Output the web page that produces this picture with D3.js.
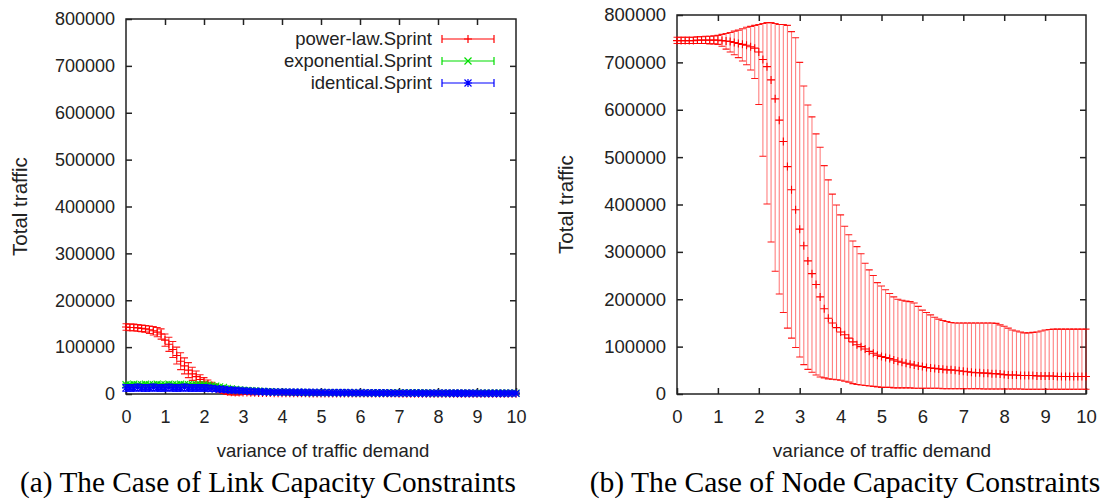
<!DOCTYPE html>
<html>
<head>
<meta charset="utf-8">
<script src="https://cdn.jsdelivr.net/npm/d3@7"></script>
<style>
  body { margin: 0; background: #fff; }
  svg { display: block; }
</style>
</head>
<body>
<div id="chart"></div>
<script>
// Sample grid: variance of traffic demand, 0 .. 10 in steps of 0.1
let xs = d3.range(101).map(i => i / 10)

// Axis ticks
let xTicks = [0, 1, 2, 3, 4, 5, 6, 7, 8, 9, 10]
let yTicks = [0, 100000, 200000, 300000, 400000, 500000, 600000, 700000, 800000]

// (a) Link capacity, values in thousands
let plMean = [143, 142, 142, 141, 140, 139, 137, 135, 132, 128,
    115, 106, 95, 82, 70, 60, 51, 43, 37, 31,
    26, 22, 18, 14, 10, 7, 5, 4, 3, 3,
    3, 3, 2.5, 2.5, 2, 2, 2, 2, 1.8, 1.8,
    1.5, 1.5, 1.5, 1.5, 1.4, 1.4, 1.4, 1.3, 1.3, 1.3,
    1.2, 1.2, 1.2, 1.2, 1.1, 1.1, 1.1, 1.1, 1, 1,
    1, 1, 1, 1, 1, 0.9, 0.9, 0.9, 0.9, 0.9,
    0.8, 0.8, 0.8, 0.8, 0.8, 0.8, 0.7, 0.7, 0.7, 0.7,
    0.7, 0.7, 0.6, 0.6, 0.6, 0.6, 0.6, 0.6, 0.6, 0.5,
    0.5, 0.5, 0.5, 0.5, 0.5, 0.5, 0.5, 0.5, 0.5, 0.5, 0.5]
let plErr = [7, 7, 7, 7, 7, 7, 8, 9, 10, 11,
    13, 15, 17, 18, 18, 17, 16, 14, 12, 10,
    9, 8, 7, 7, 6, 6, 6, 6, 5, 5,
    4, 4, 4, 4, 3, 3, 3, 3, 3, 3,
    3, 3, 3, 3, 3, 3, 3, 3, 3, 3,
    2, 2, 2, 2, 2, 2, 2, 2, 2, 2,
    2, 2, 2, 2, 2, 2, 2, 2, 2, 2,
    2, 2, 2, 2, 2, 2, 2, 2, 2, 2,
    2, 2, 2, 2, 2, 2, 2, 2, 2, 2,
    2, 2, 2, 2, 2, 2, 2, 2, 2, 2, 2]
let exMean = [20, 20, 21, 20, 20, 21, 20, 20, 21, 20,
    20, 21, 20, 20, 21, 20, 20, 20, 20, 20,
    20, 19, 18, 17, 15, 14, 12, 11, 10, 9,
    8, 7.5, 7, 6.5, 6, 5.5, 5, 4.8, 4.5, 4.2,
    4, 3.8, 3.6, 3.5, 3.4, 3.3, 3.2, 3.1, 3, 3,
    2.9, 2.9, 2.8, 2.8, 2.8, 2.7, 2.7, 2.7, 2.6, 2.6,
    2.6, 2.5, 2.5, 2.5, 2.5, 2.4, 2.4, 2.4, 2.4, 2.3,
    2.3, 2.3, 2.3, 2.2, 2.2, 2.2, 2.2, 2.2, 2.1, 2.1,
    2.1, 2.1, 2.1, 2, 2, 2, 2, 2, 2, 2,
    1.9, 1.9, 1.9, 1.9, 1.9, 1.9, 1.9, 1.8, 1.8, 1.8, 1.8]
let exErr = [3, 3, 3, 3, 3, 3, 3, 3, 3, 3,
    3, 3, 3, 3, 3, 3, 3, 3, 3, 3,
    3, 3, 3, 3, 3, 3, 3, 3, 3, 3,
    3, 3, 3, 3, 3, 3, 3, 3, 3, 3,
    2.5, 2.5, 2.5, 2.5, 2.5, 2.5, 2.5, 2.5, 2.5, 2.5,
    2.5, 2.5, 2.5, 2.5, 2.5, 2.5, 2.5, 2.5, 2.5, 2.5,
    2.5, 2.5, 2.5, 2.5, 2.5, 2.5, 2.5, 2.5, 2.5, 2.5,
    2.5, 2.5, 2.5, 2.5, 2.5, 2.5, 2.5, 2.5, 2.5, 2.5,
    2.5, 2.5, 2.5, 2.5, 2.5, 2.5, 2.5, 2.5, 2.5, 2.5,
    2.5, 2.5, 2.5, 2.5, 2.5, 2.5, 2.5, 2.5, 2.5, 2.5, 2.5]
let idMean = [13, 13, 13, 14, 13, 13, 13, 14, 13, 13,
    13, 14, 13, 13, 13, 14, 13, 13, 13, 13,
    13, 12.5, 12, 11, 10.5, 10, 9, 8.5, 8, 7.5,
    7, 6.5, 6, 5.5, 5.2, 5, 4.7, 4.5, 4.2, 4.1,
    4, 3.9, 3.8, 3.7, 3.6, 3.5, 3.4, 3.3, 3.2, 3.1,
    3, 3, 2.9, 2.9, 2.8, 2.8, 2.7, 2.7, 2.6, 2.6,
    2.5, 2.5, 2.4, 2.4, 2.3, 2.3, 2.2, 2.2, 2.1, 2.1,
    2, 2, 2, 1.9, 1.9, 1.9, 1.8, 1.8, 1.8, 1.8,
    1.7, 1.7, 1.7, 1.7, 1.6, 1.6, 1.6, 1.6, 1.6, 1.6,
    1.5, 1.5, 1.5, 1.5, 1.5, 1.5, 1.5, 1.5, 1.5, 1.5, 1.5]
let idErr = [7, 7, 7, 7, 7, 7, 7, 7, 7, 7,
    7, 7, 7, 7, 7, 7, 7, 7, 7, 7,
    7, 6.5, 6, 5.5, 5.5, 5, 5, 4.5, 4.5, 4,
    4, 4, 3.5, 3.5, 3.5, 3.5, 3, 3, 3, 3,
    3, 3, 3, 3, 3, 3, 3, 3, 3, 3,
    3, 3, 3, 3, 3, 3, 3, 3, 3, 3,
    3, 3, 3, 3, 3, 3, 3, 3, 3, 3,
    3, 3, 3, 3, 3, 3, 3, 3, 3, 3,
    3, 3, 3, 3, 3, 3, 3, 3, 3, 3,
    3, 3, 3, 3, 3, 3, 3, 3, 3, 3, 3]

// (b) Node capacity, power-law.Sprint, values in thousands
let nodeMean = [746, 746, 746, 746, 746, 747, 747, 747, 747, 747,
    747, 746, 745, 744, 742, 740, 738, 736, 733, 730,
    722, 706, 691, 663, 623, 578, 533, 480, 431, 389,
    348, 313, 281, 254, 231, 205, 180, 160, 150, 140,
    131, 125, 118, 110, 104, 100, 95, 90, 86, 82,
    79, 77, 75, 72, 69, 67, 65, 63, 61, 59,
    58, 56, 55, 54, 53, 52, 51, 51, 50, 49,
    48, 47, 46, 45, 45, 44, 44, 43, 43, 42,
    41, 40, 40, 40, 39, 39, 39, 39, 38, 38,
    38, 38, 38, 37, 37, 37, 37, 37, 37, 37, 37]
let nodeLow = [740, 740, 740, 740, 740, 740, 740, 740, 739, 739,
    738, 734, 728, 722, 716, 710, 703, 695, 684, 666,
    611, 502, 401, 321, 259, 211, 172, 139, 118, 98,
    78, 62, 52, 46, 40, 36, 34, 32, 31, 30,
    29, 27, 25, 22, 20, 19, 18, 17, 16, 15,
    14, 14, 14, 13, 13, 13, 13, 13, 12, 12,
    12, 12, 12, 12, 12, 11, 11, 11, 11, 11,
    11, 11, 11, 11, 11, 10.5, 10.5, 10.5, 10.5, 10.5,
    10.5, 10.5, 10.5, 10.5, 10.5, 10, 10, 10, 10, 10,
    10, 10, 10, 10, 10, 10, 10, 10, 10, 10, 10]
let nodeHigh = [753, 753, 753, 753, 753, 754, 754, 755, 755, 756,
    757, 759, 761, 763, 766, 768, 771, 774, 776, 778,
    780, 782, 784, 784, 782, 780, 780, 778, 765, 752,
    700, 650, 610, 585, 549, 521, 482, 452, 422, 399,
    378, 354, 336, 323, 311, 296, 276, 262, 250, 235,
    228, 220, 212, 205, 200, 198, 196, 195, 192, 185,
    177, 172, 167, 162, 158, 155, 153, 151, 150, 150,
    150, 150, 150, 150, 150, 150, 150, 150, 149, 146,
    143, 139, 135, 133, 131, 129, 129, 130, 131, 133,
    135, 136, 137, 137, 137, 137, 137, 137, 137, 137, 137]

let legendNames = ['power-law.Sprint', 'exponential.Sprint', 'identical.Sprint']
let colors = ['#ff0000', '#00dd00', '#0000ff']

// Marker shapes (gnuplot point types 1, 2, 3)
let markers = {
    plus: 'M-4,0H4M0,-4V4',
    cross: 'M-3.5,-3.5L3.5,3.5M-3.5,3.5L3.5,-3.5',
    star: 'M-4,0H4M0,-4V4M-3.5,-3.5L3.5,3.5M-3.5,3.5L3.5,-3.5'
}

let svgWidth = 1102, svgHeight = 502
let svg = d3.select('#chart')
    .append('svg')
    .attr('width', svgWidth)
    .attr('height', svgHeight)
    .style('font-family', '"Liberation Sans", Arial, sans-serif')

svg.append('rect').attr('width', svgWidth).attr('height', svgHeight).attr('fill', '#fff')

// Draw one gnuplot-like panel, returns its scales
drawPanel = (p) => {
    let x = d3.scaleLinear().domain([0, 10]).range([p.left, p.right])
    let y = d3.scaleLinear().domain([0, 800000]).range([p.bottom, p.top])
    let g = svg.append('g')

    // inward ticks on all four sides
    let styleAxis = (a, labels) => {
        a.select('.domain').remove()
        a.selectAll('.tick line').attr('stroke', '#222').attr('stroke-width', 1.5)
        a.selectAll('.tick text')
            .attr('fill', '#222')
            .style('font-size', p.fontSize + 'px')
            .style('font-family', '"Liberation Sans", Arial, sans-serif')
        if (!labels) a.selectAll('.tick text').remove()
    }
    g.append('g')
        .attr('transform', 'translate(0,' + p.bottom + ')')
        .call(d3.axisBottom(x).tickValues(xTicks).tickSize(-6).tickPadding(16).tickFormat(d3.format('d')))
        .call(a => styleAxis(a, true))
    g.append('g')
        .attr('transform', 'translate(0,' + p.top + ')')
        .call(d3.axisTop(x).tickValues(xTicks.slice(1, -1)).tickSize(-6))
        .call(a => styleAxis(a, false))
    g.append('g')
        .attr('transform', 'translate(' + p.left + ',0)')
        .call(d3.axisLeft(y).tickValues(yTicks).tickSize(-6).tickPadding(11).tickFormat(d3.format('d')))
        .call(a => styleAxis(a, true))
    g.append('g')
        .attr('transform', 'translate(' + p.right + ',0)')
        .call(d3.axisRight(y).tickValues(yTicks.slice(1, -1)).tickSize(-6))
        .call(a => styleAxis(a, false))

    // frame
    g.append('rect')
        .attr('x', p.left).attr('y', p.top)
        .attr('width', p.right - p.left).attr('height', p.bottom - p.top)
        .attr('fill', 'none').attr('stroke', '#222').attr('stroke-width', 1.5)

    // axis titles
    g.append('text')
        .attr('transform', 'translate(' + p.yTitleX + ',' + (p.top + p.bottom) / 2 + ') rotate(-90)')
        .attr('text-anchor', 'middle')
        .attr('dy', '0.35em')
        .attr('fill', '#222')
        .style('font-size', '20.5px')
        .text('Total traffic')
    g.append('text')
        .attr('x', p.xTitleX).attr('y', 457)
        .attr('text-anchor', 'middle')
        .attr('fill', '#222')
        .style('font-size', (p.fontSize + 0.5) + 'px')
        .text('variance of traffic demand')

    // caption
    svg.append('text')
        .attr('x', p.captionX).attr('y', 492)
        .attr('text-anchor', 'middle')
        .attr('fill', '#000')
        .style('font-family', '"Liberation Serif", "Times New Roman", serif')
        .style('font-size', p.captionSize + 'px')
        .text(p.caption)

    return { x, y }
}

// Error-bar series: light vertical bar, caps, and marker at the mean
drawSeries = (sc, rows, color, marker, barOpacity) => {
    let g = svg.append('g')
        .attr('stroke', color)
        .attr('stroke-width', 1.1)
        .attr('fill', 'none')
    let pts = g.selectAll('g').data(rows).join('g')
        .attr('transform', d => 'translate(' + sc.x(d.x) + ',0)')
    pts.append('line')
        .attr('stroke-opacity', barOpacity)
        .attr('y1', d => sc.y(d.lo * 1000))
        .attr('y2', d => sc.y(d.hi * 1000))
    pts.append('path')
        .attr('stroke-opacity', 0.9)
        .attr('d', d => 'M-3.5,' + sc.y(d.lo * 1000) + 'H3.5M-3.5,' + sc.y(d.hi * 1000) + 'H3.5')
    pts.append('path')
        .attr('transform', d => 'translate(0,' + sc.y(d.m * 1000) + ')')
        .attr('d', markers[marker])
}

// (a) Link capacity constraints
let a = drawPanel({
    left: 126, right: 516, top: 19, bottom: 394, fontSize: 18,
    yTitleX: 20, xTitleX: 323, captionX: 268, captionSize: 29.3,
    caption: '(a) The Case of Link Capacity Constraints'
})
let symRows = (mean, err) => xs.map((v, i) => ({ x: v, m: mean[i], lo: mean[i] - err[i], hi: mean[i] + err[i] }))
drawSeries(a, symRows(plMean, plErr), colors[0], 'plus', 0.75)
drawSeries(a, symRows(exMean, exErr), colors[1], 'cross', 0.85)
drawSeries(a, symRows(idMean, idErr), colors[2], 'star', 0.85)

// legend
let legend = svg.append('g')
legendNames.forEach((name, i) => {
    let ly = 39 + i * 22
    legend.append('text')
        .attr('x', 432).attr('y', ly)
        .attr('dy', '0.35em')
        .attr('text-anchor', 'end')
        .attr('fill', '#222')
        .style('font-size', '18.5px')
        .text(name)
    let lg = legend.append('g')
        .attr('stroke', colors[i]).attr('stroke-width', 1.2).attr('fill', 'none')
    lg.append('path').attr('d', 'M442,' + ly + 'H494M442,' + (ly - 4) + 'V' + (ly + 4) + 'M494,' + (ly - 4) + 'V' + (ly + 4))
    lg.append('path')
        .attr('transform', 'translate(468,' + ly + ')')
        .attr('d', markers[['plus', 'cross', 'star'][i]])
})

// (b) Node capacity constraints
let b = drawPanel({
    left: 677, right: 1086, top: 15, bottom: 394, fontSize: 18.5,
    yTitleX: 566, xTitleX: 882, captionX: 845, captionSize: 29.6,
    caption: '(b) The Case of Node Capacity Constraints'
})
let nodeRows = xs.map((v, i) => ({ x: v, m: nodeMean[i], lo: nodeLow[i], hi: nodeHigh[i] }))
drawSeries(b, nodeRows, colors[0], 'plus', 0.5)
</script>
</body>
</html>
